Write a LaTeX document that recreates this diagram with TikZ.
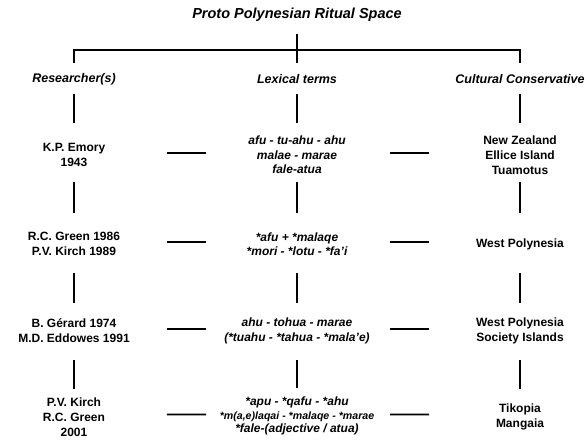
\documentclass[tikz,border=0pt]{standalone}
\usepackage{fontspec}
\setmainfont{Liberation Sans}
\usepackage{tikz}
\usetikzlibrary{positioning, calc}
\usepackage{xcolor}
\definecolor{RitualBlack}{HTML}{000000}
\tikzset{
    % Text styles - no boxes
    heading/.style={
        font=\fontsize{14.5}{17}\selectfont\bfseries\itshape
    },
    column/.style={
        font=\fontsize{12.5}{14.5}\selectfont\bfseries\itshape
    },
    author/.style={
        align=center,
        font=\fontsize{12}{14.8}\selectfont\bfseries
    },
    lexeme/.style={
        align=center,
        font=\fontsize{12}{14.5}\selectfont\bfseries\itshape
    },
    region/.style={
        align=center,
        font=\fontsize{12}{14.8}\selectfont\bfseries
    },
    % Line styles - plain straight strokes
    link/.style={
        line width=1.8pt,
        draw=RitualBlack
    },
    vlink/.style 2 args={
        link,
        shorten <=#1,
        shorten >=#2
    },
    hlink/.style={
        link,
        shorten <=93pt,
        shorten >=91pt
    }
}

\begin{document}
\begin{tikzpicture}[x=1pt, y=-1pt]
    \useasboundingbox (0,0) rectangle (586,441);

    \node[heading] (title) at (297,15) {Proto Polynesian Ritual Space};

    \node[column] (hr) at (74,79) {Researcher(s)};
    \node[column] (hl) at (297,79) {Lexical terms};
    \node[column] (hc) at (520,79) {Cultural Conservative};

    \node[author] (r1) at (74,155) {K.P. Emory\\1943};
    \node[lexeme] (l1) at (297,155) {afu - tu-ahu - ahu\\malae - marae\\fale-atua};
    \node[region] (c1) at (520,155) {New Zealand\\Ellice Island\\Tuamotus};

    \node[author] (r2) at (74,244) {R.C. Green 1986\\P.V. Kirch 1989};
    \node[lexeme] (l2) at (297,244) {*afu + *malaqe\\*mori - *lotu - *fa'i};
    \node[region] (c2) at (520,244) {West Polynesia};

    \node[author] (r3) at (74,331) {B. Gérard 1974\\M.D. Eddowes 1991};
    \node[lexeme] (l3) at (297,331) {ahu - tohua - marae\\(*tuahu - *tahua - *mala'e)};
    \node[region] (c3) at (520,331) {West Polynesia\\Society Islands};

    \node[author] (r4) at (74,417) {P.V. Kirch\\R.C. Green\\2001};
    \node[lexeme, font=\fontsize{12}{13.5}\selectfont\bfseries\itshape] (l4) at (297,416) {*apu - *qafu - *ahu\\{\fontsize{10.6}{13}\selectfont *m(a,e)laqai - *malaqe - *marae}\\*fale-(adjective / atua)};
    \node[region] (c4) at (520,417) {Tikopia\\Mangaia};

    % bracket under the title
    \coordinate (bar) at (297,50);
    \draw[link] ([yshift=-19pt]title.center) -- ([yshift=16pt]hl.center);
    \draw[link] ([yshift=16pt]hr.center) |- (bar) -| ([yshift=16pt]hc.center);

    % columns
    \foreach \c in {r,l,c} {
        \draw[vlink={15pt}{32pt}] (h\c.center) -- (\c1.center);
        \draw[vlink={27pt}{31pt}] (\c1.center) -- (\c2.center);
        \draw[vlink={29pt}{28pt}] (\c2.center) -- (\c3.center);
        \draw[vlink={29pt}{28pt}] (\c3.center) -- (\c4.center);
    }

    % rows
    \foreach \i in {1,2,3,4} {
        \draw[hlink] ([yshift=2pt]r\i.center) -- ([yshift=2pt]l\i.center);
        \draw[hlink] ([yshift=2pt]l\i.center) -- ([yshift=2pt]c\i.center);
    }
\end{tikzpicture}
\end{document}
